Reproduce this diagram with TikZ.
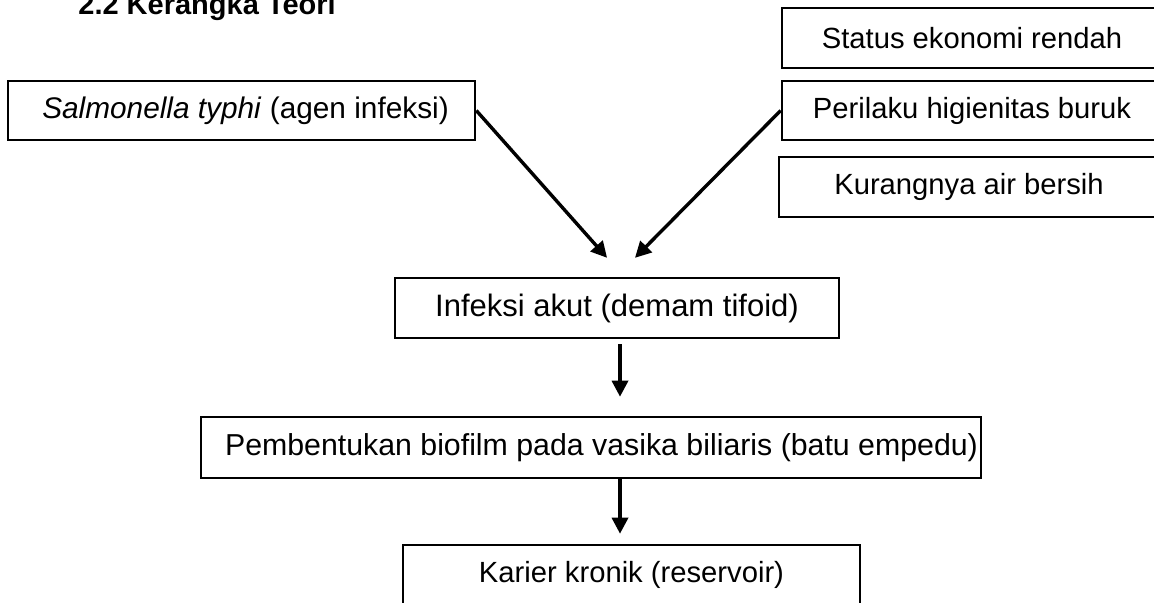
\documentclass[tikz,border=0pt]{standalone}
\usepackage{fontspec}
\setmainfont{Liberation Sans}
\usetikzlibrary{arrows.meta}
\begin{document}
\begin{tikzpicture}[x=0.5pt,y=-0.5pt,
  box/.style={draw=black,line width=1.3pt,inner sep=0pt,anchor=center,
    font=\fontsize{15.5}{18}\selectfont},
  sbox/.style={box,font=\fontsize{14.6}{17}\selectfont},
  arr/.style={line width=1.7pt,-{Triangle[length=8pt,width=8pt]}},
  title/.style={font=\fontsize{14.5}{17}\selectfont\bfseries,anchor=base west,inner sep=0pt}]
\useasboundingbox (0,0) rectangle (1154,602);
\clip (0,0) rectangle (1154,602);
\fill[white] (0,0) rectangle (1154,602);
\node[title] (ttl) at (78,14) {2.2 Kerangka Teori};
\node[box,font=\fontsize{14.9}{17}\selectfont,minimum width=233.5pt,minimum height=29.5pt] (sal) at (241.5,110.5) {\hspace*{4pt}\textit{Salmonella typhi} (agen infeksi)};
\node[sbox,minimum width=190pt,minimum height=30pt] (stat) at (972,38) {Status ekonomi rendah};
\node[sbox,minimum width=190pt,minimum height=29.5pt] (per) at (972,110.5) {Perilaku higienitas buruk};
\node[sbox,minimum width=190pt,minimum height=30pt] (kur) at (969,187) {Kurangnya air bersih};
\node[box,minimum width=222pt,minimum height=30pt] (inf) at (617,308) {Infeksi akut (demam tifoid)};
\node[box,font=\fontsize{15.15}{18}\selectfont,minimum width=390pt,minimum height=30.5pt] (bio) at (591,447.5) {\hspace*{10.5pt}Pembentukan biofilm pada vasika biliaris (batu empedu)};
\node[sbox,minimum width=228.5pt,minimum height=30pt] (kar) at (631.5,575) {Karier kronik (reservoir)};
\coordinate (ia) at (625,278);
\coordinate (ib) at (615,278);
\draw[arr,shorten >=13.5pt] (sal.east) -- (ia);
\draw[arr,shorten >=14.2pt] (per.west) -- (ib);
\draw[arr,shorten <=2.5pt,shorten >=9.5pt] (inf.south -| 620,0) -- (bio.north -| 620,0);
\draw[arr,shorten >=5pt] (bio.south -| 620,0) -- (kar.north -| 620,0);
\end{tikzpicture}
\end{document}
